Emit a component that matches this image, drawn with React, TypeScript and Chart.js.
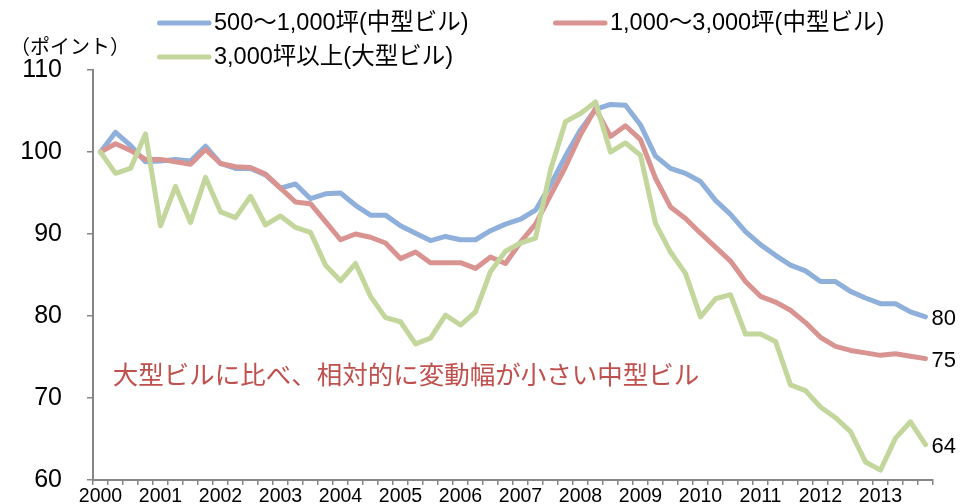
import { useEffect, useRef } from 'react';
import { Chart, registerables } from 'chart.js';

Chart.register(...registerables);

// Office rent index by building size (2000 Q1 = 100), quarterly
const years = ['2000', '2001', '2002', '2003', '2004', '2005', '2006', '2007', '2008', '2009', '2010', '2011', '2012', '2013'];
const quarters = years.flatMap((y) => ['Q1', 'Q2', 'Q3', 'Q4'].map((q) => `${y} ${q}`));

const seriesNames = ['500〜1,000坪(中型ビル)', '1,000〜3,000坪(中型ビル)', '3,000坪以上(大型ビル)'];

const mid500to1000 = [
  100.0, 102.4, 100.8, 98.8, 98.9, 99.1, 98.9, 100.7, 98.6, 98.0, 98.0, 97.2, 95.6, 96.1,
  94.3, 94.9, 95.0, 93.5, 92.3, 92.3, 91.0, 90.1, 89.2, 89.7, 89.3, 89.3, 90.4, 91.2,
  91.8, 92.9, 96.0, 99.5, 102.7, 105.2, 105.8, 105.7, 103.3, 99.5, 98.0, 97.4, 96.4, 94.1,
  92.4, 90.3, 88.7, 87.4, 86.2, 85.5, 84.2, 84.2, 83.0, 82.2, 81.5, 81.5, 80.5, 79.9,
];

const mid1000to3000 = [
  100.0, 101.0, 100.2, 99.1, 99.1, 98.8, 98.5, 100.3, 98.6, 98.2, 98.1, 97.3, 95.6, 93.9,
  93.7, 91.5, 89.3, 90.0, 89.6, 88.9, 87.0, 87.8, 86.5, 86.5, 86.5, 85.8, 87.2, 86.4,
  89.0, 91.2, 94.7, 98.2, 102.1, 105.3, 101.9, 103.2, 101.5, 96.8, 93.3, 91.9, 90.1, 88.4,
  86.7, 84.2, 82.4, 81.7, 80.7, 79.2, 77.4, 76.3, 75.8, 75.5, 75.2, 75.4, 75.1, 74.8,
];

const largeOver3000 = [
  100.0, 97.4, 98.0, 102.2, 91.0, 95.8, 91.4, 96.9, 92.7, 92.0, 94.6, 91.1, 92.2, 90.8,
  90.2, 86.2, 84.3, 86.4, 82.4, 79.8, 79.3, 76.6, 77.3, 80.1, 78.9, 80.5, 85.4, 87.9,
  88.9, 89.5, 97.8, 103.7, 104.7, 106.1, 100.0, 101.1, 99.6, 91.3, 87.8, 85.2, 79.9, 82.1,
  82.6, 77.8, 77.8, 76.9, 71.6, 70.9, 68.9, 67.6, 65.9, 62.2, 61.2, 65.1, 67.1, 64.3,
];

const yTicks = [60, 70, 80, 90, 100, 110];
const unitLabel = '（ポイント）';
const note = '大型ビルに比べ、相対的に変動幅が小さい中型ビル';

const colors = ['#8FB0DA', '#D99492', '#C3D69B'];
const FONT = "'Liberation Sans', 'Noto Sans CJK JP', sans-serif";

const overlayPlugin = {
  id: 'overlayText',
  afterDraw(chart: any) {
    const { ctx } = chart;
    const xs = chart.scales.x;
    const ys = chart.scales.y;
    ctx.save();

    // unit label
    ctx.fillStyle = '#000';
    ctx.font = `20px ${FONT}`;
    ctx.textAlign = 'center';
    ctx.textBaseline = 'middle';
    ctx.fillText(unitLabel, 70, 48);

    // legend: two columns, two rows
    const legendItems = [
      { name: seriesNames[0], color: colors[0], x: 157, y: 23 },
      { name: seriesNames[1], color: colors[1], x: 553, y: 23 },
      { name: seriesNames[2], color: colors[2], x: 157, y: 57 },
    ];
    legendItems.forEach((it) => {
      ctx.strokeStyle = it.color;
      ctx.lineWidth = 5;
      ctx.lineCap = 'round';
      ctx.beginPath();
      ctx.moveTo(it.x + 2.5, it.y);
      ctx.lineTo(it.x + 52, it.y);
      ctx.stroke();
      ctx.fillStyle = '#000';
      ctx.font = `23.5px ${FONT}`;
      ctx.textAlign = 'left';
      ctx.textBaseline = 'middle';
      ctx.fillText(it.name, it.x + 57, it.y + 1);
    });

    // end-of-series value labels
    const last = quarters.length - 1;
    [mid500to1000, mid1000to3000, largeOver3000].forEach((arr) => {
      const v = arr[last];
      ctx.fillStyle = '#000';
      ctx.font = `22px ${FONT}`;
      ctx.textAlign = 'left';
      ctx.textBaseline = 'middle';
      ctx.fillText(String(Math.round(v)), xs.getPixelForValue(last) + 6, ys.getPixelForValue(v) + 2);
    });

    // note
    ctx.fillStyle = '#C0504D';
    ctx.font = `25.5px ${FONT}`;
    ctx.textAlign = 'center';
    ctx.textBaseline = 'middle';
    ctx.fillText(note, 406, 377);

    ctx.restore();
  },
};

export default function App() {
  const canvasRef = useRef<HTMLCanvasElement | null>(null);

  useEffect(() => {
    const canvas = canvasRef.current;
    if (!canvas) return;
    const mk = (label: string, data: number[], color: string, order: number) => ({
      label,
      data,
      borderColor: color,
      backgroundColor: color,
      borderWidth: 5,
      borderJoinStyle: 'round' as const,
      borderCapStyle: 'round' as const,
      pointRadius: 0,
      tension: 0,
      fill: false,
      order,
    });
    const chart = new Chart(canvas, {
      type: 'line',
      data: {
        labels: quarters,
        datasets: [
          mk(seriesNames[0], mid500to1000, colors[0], 2),
          mk(seriesNames[1], mid1000to3000, colors[1], 1),
          mk(seriesNames[2], largeOver3000, colors[2], 0),
        ],
      },
      options: {
        animation: false,
        responsive: false,
        maintainAspectRatio: false,
        layout: { padding: { left: 0, top: 70, right: 29, bottom: 0 } },
        plugins: { legend: { display: false }, tooltip: { enabled: false } },
        scales: {
          x: {
            type: 'category',
            offset: true,
            grid: {
              offset: true,
              drawOnChartArea: false,
              drawTicks: true,
              tickLength: 5,
              color: '#868686',
              lineWidth: 1.5,
            },
            border: { color: '#868686', width: 2 },
            ticks: {
              autoSkip: false,
              maxRotation: 0,
              minRotation: 0,
              padding: 0,
              color: '#000',
              font: { family: FONT, size: 19.5 },
              callback: (_v: any, i: number) => (i % 4 === 0 ? years[i / 4] : ''),
            },
            afterFit: (s: any) => {
              s.height = 24;
              s.paddingLeft = 0;
              s.paddingRight = 0;
            },
          },
          y: {
            min: 60,
            max: 110,
            afterBuildTicks: (s: any) => {
              s.ticks = yTicks.map((v) => ({ value: v }));
            },
            grid: {
              drawOnChartArea: false,
              drawTicks: true,
              tickLength: 6,
              color: '#868686',
              lineWidth: 1.5,
            },
            border: { color: '#868686', width: 2 },
            ticks: {
              padding: 25,
              color: '#000',
              font: { family: FONT, size: 25 },
            },
            afterFit: (s: any) => {
              s.width = 93;
              s.paddingTop = 0;
              s.paddingBottom = 0;
            },
          },
        },
      },
      plugins: [overlayPlugin],
    });
    return () => chart.destroy();
  }, []);

  return (
    <div style={{ position: 'fixed', left: 0, top: 0, width: 962, height: 504, background: '#fff' }}>
      <canvas ref={canvasRef} width={962} height={504} style={{ display: 'block' }} />
    </div>
  );
}
